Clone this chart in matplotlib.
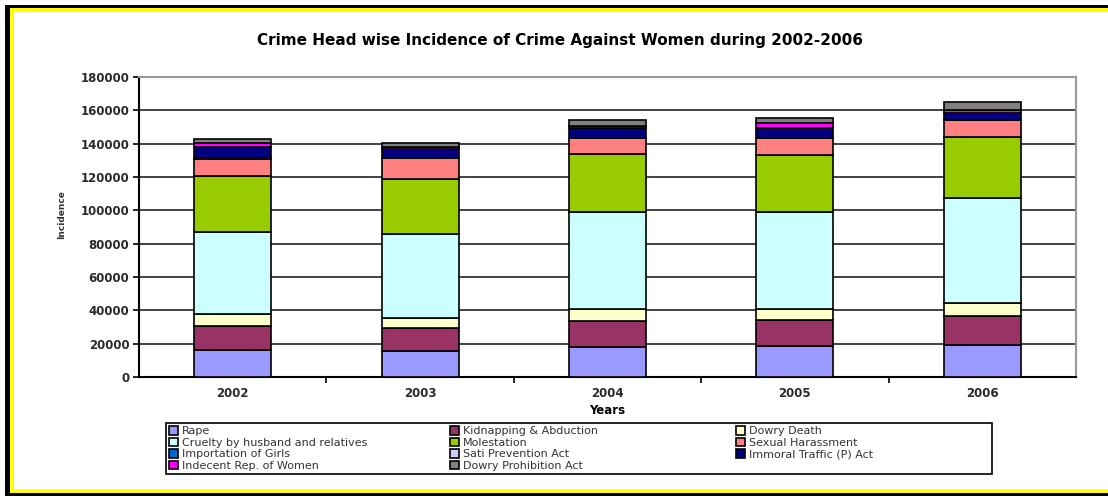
import numpy as np
import matplotlib
matplotlib.use("Agg")
import matplotlib.pyplot as plt
from matplotlib.patches import Patch, Rectangle

years = ["2002", "2003", "2004", "2005", "2006"]

crime_heads = [
    "Rape",
    "Kidnapping & Abduction",
    "Dowry Death",
    "Cruelty by husband and relatives",
    "Molestation",
    "Sexual Harassment",
    "Importation of Girls",
    "Sati Prevention Act",
    "Immoral Traffic (P) Act",
    "Indecent Rep. of Women",
    "Dowry Prohibition Act",
]

rape = [16373, 15847, 18233, 18359, 19348]
kidnapping = [14506, 13296, 15578, 15750, 17414]
dowry_death = [6822, 6208, 7026, 6787, 7618]
cruelty = [49237, 50703, 58121, 58319, 63128]
molestation = [33943, 32939, 34567, 34175, 36617]
sexual_harassment = [10155, 12325, 10001, 9984, 9966]
importation = [76, 46, 89, 149, 67]
sati = [0, 0, 0, 1, 0]
immoral_traffic = [6598, 5510, 5748, 5908, 4541]
indecent_rep = [2508, 1043, 1378, 2917, 1562]
dowry_prohibition = [2816, 2684, 3592, 3204, 4504]

series = [rape, kidnapping, dowry_death, cruelty, molestation, sexual_harassment,
          importation, sati, immoral_traffic, indecent_rep, dowry_prohibition]

colors = ["#9999FF", "#993366", "#FFFFCC", "#CCFFFF", "#99CC00", "#FF8080",
          "#0066CC", "#CCCCFF", "#000080", "#FF00FF", "#808080"]

fig = plt.figure(figsize=(11.08, 4.96), dpi=100)
W, H = 1108, 496

# yellow / black frame
def px_rect(x0, y0, x1, y1, c, fill=True, lw=0):
    r = Rectangle((x0 / W, 1 - y1 / H), (x1 - x0) / W, (y1 - y0) / H,
                  transform=fig.transFigure, zorder=0, fill=fill, linewidth=lw)
    if fill:
        r.set_color(c)
    else:
        r.set_edgecolor(c)
    fig.patches.append(r)

px_rect(5, 5, W, 8, "black")
px_rect(10, 8, W, 12, "yellow")
px_rect(5, 5, 10, H, "black")
px_rect(10, 8, 14, 493, "yellow")
px_rect(10, 489, W, 493, "yellow")
px_rect(5, 493, W, H, "black")

ax = fig.add_axes([139 / W, 1 - 377 / H, (1076 - 139) / W, 300 / H])

x = np.arange(len(years))
bottom = np.zeros(len(years))
for vals, col, name in zip(series, colors, crime_heads):
    ax.bar(x, vals, width=0.41, bottom=bottom, color=col, edgecolor="black",
           linewidth=1.2, label=name, zorder=3)
    bottom += np.array(vals)

ax.set_xlim(-0.5, len(years) - 0.5)
ax.set_ylim(0, 180000)
ax.set_yticks(np.arange(0, 180001, 20000))
ax.set_yticklabels([str(v) for v in range(0, 180001, 20000)],
                   fontsize=8.5, fontweight="bold", color="#2a2a2a")
ax.set_xticks(x)
ax.set_xticklabels(years, fontsize=8.5, fontweight="bold", color="#2a2a2a")
ax.set_xticks(np.arange(0.5, len(years) - 0.5), minor=True)
ax.tick_params(axis="x", which="major", length=0, pad=7)
ax.tick_params(axis="x", which="minor", length=4, width=1.2, direction="out")
ax.tick_params(axis="y", length=4, width=1.2, direction="out", pad=3)

ax.yaxis.grid(True, color="#222222", linewidth=1.2)
ax.set_axisbelow(True)
for s in ["left", "bottom"]:
    ax.spines[s].set_linewidth(1.5)
    ax.spines[s].set_color("black")
for s in ["top", "right"]:
    ax.spines[s].set_linewidth(1.5)
    ax.spines[s].set_color("#999999")

ax.set_xlabel("Years", fontsize=8.5, fontweight="bold", labelpad=3)
fig.text(62 / W, 1 - 215 / H, "Incidence", rotation=90, fontsize=6.5,
         fontweight="bold", color="#333333", ha="center", va="center")

fig.text(0.505, 1 - 40 / H, "Crime Head wise Incidence of Crime Against Women during 2002-2006",
         fontsize=11, fontweight="bold", ha="center", va="center")

# legend: three equal-width columns inside one box
px_rect(166, 423, 992, 474, "black", fill=False, lw=1.2)
col_x = [166, 447, 733]
col_items = [[0, 3, 6, 9], [1, 4, 7, 10], [2, 5, 8]]
for cx, items in zip(col_x, col_items):
    handles = [Patch(facecolor=colors[i], edgecolor="black", linewidth=1.2) for i in items]
    leg = fig.legend(handles, [crime_heads[i] for i in items], loc="upper left",
                     bbox_to_anchor=(cx / W, 1 - 423 / H), bbox_transform=fig.transFigure,
                     fontsize=8, frameon=False, handlelength=0.8, handleheight=0.8,
                     handletextpad=0.35, labelspacing=0.12, borderpad=0.1,
                     borderaxespad=0.2)
    for t in leg.get_texts():
        t.set_color("#333333")

fig.savefig("out.png", dpi=100)
